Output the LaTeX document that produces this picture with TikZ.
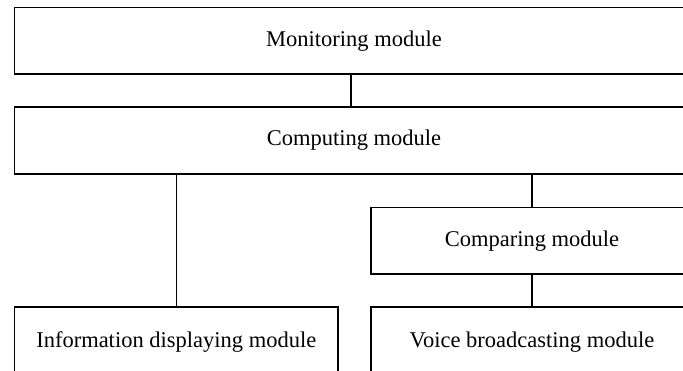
\documentclass[tikz,border=0pt]{standalone}
\usepackage{fontspec}
\setmainfont{Liberation Serif}
\begin{document}
\begin{tikzpicture}[x=1pt,y=-1pt,
  modbox/.style={draw=black, line width=1.3pt, inner sep=0pt, outer sep=0pt,
    font=\fontsize{22.5}{27}\selectfont, align=center},
  link/.style={draw=black, line width=1.3pt}]
\useasboundingbox (0,0) rectangle (683,371);
\clip (0,0) rectangle (683,371);

\node[modbox, minimum width=679pt, minimum height=66.5pt] (monitoring) at (354,40.75) {Monitoring module};
\node[modbox, minimum width=679pt, minimum height=67pt] (computing) at (354,140.5) {Computing module};
\node[modbox, minimum width=322pt, minimum height=66.5pt] (comparing) at (532,240.75) {Comparing module};
\node[modbox, minimum width=323.5pt, minimum height=71pt] (info) at (176.25,342.5) {Information displaying module};
\node[modbox, minimum width=322pt, minimum height=71pt] (voice) at (532,342.5) {Voice broadcasting module};

\draw[link] ([xshift=-3pt]monitoring.south) -- ([xshift=-3pt]computing.north);
\draw[link] (info.north) -- (info.north |- computing.south);
\draw[link] (comparing.north) -- (comparing.north |- computing.south);
\draw[link] (comparing.south) -- (voice.north);
\end{tikzpicture}
\end{document}
